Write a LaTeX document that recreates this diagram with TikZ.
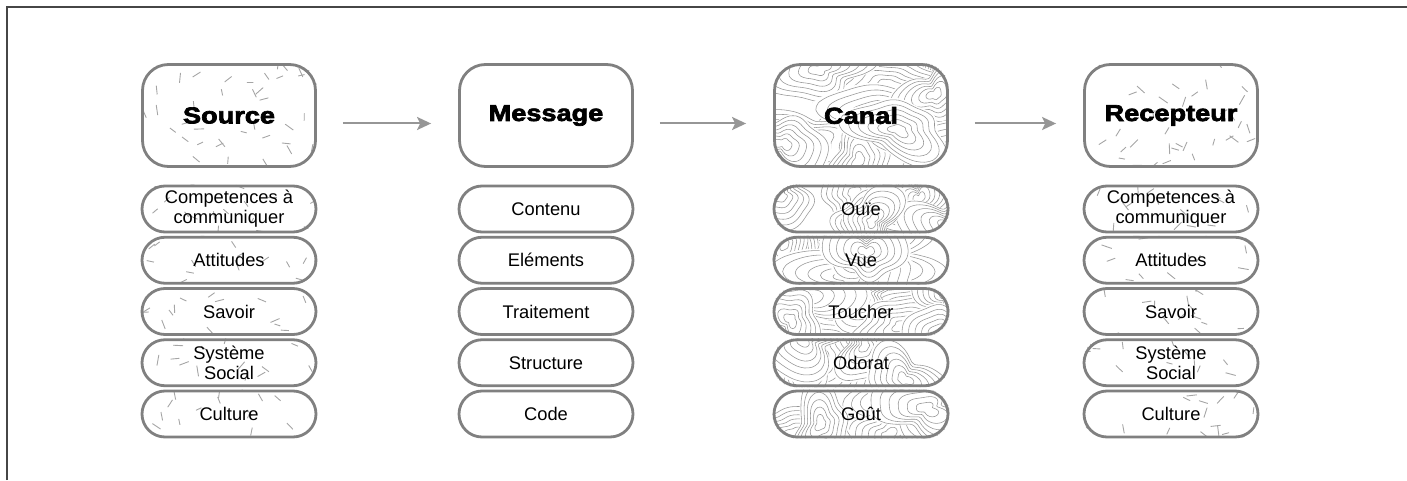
\documentclass[tikz,border=0pt]{standalone}
\usepackage{fontspec}
\setmainfont{Liberation Sans}
\newfontfamily\headfont[FakeStretch=1.18,FakeBold=3]{Liberation Sans Bold}
\usetikzlibrary{arrows.meta,backgrounds}

\definecolor{lineColor}{RGB}{128,128,128}
\definecolor{arrowColor}{RGB}{150,150,150}
\definecolor{dashColor}{RGB}{165,165,165}
\definecolor{topoColor}{RGB}{150,150,150}
\definecolor{frameColor}{RGB}{70,70,70}

\tikzset{
  headbox/.style={draw=lineColor, line width=2.8pt, rounded corners=26pt,
    minimum width=173pt, minimum height=102pt, inner sep=0pt,
    font=\headfont\fontsize{23}{26}\selectfont},
  itembox/.style={draw=lineColor, line width=2.8pt, rounded corners=23pt,
    minimum width=174pt, minimum height=46pt, inner sep=0pt, align=center,
    font=\fontsize{18.3}{20}\selectfont},
  flow/.style={draw=arrowColor, line width=2pt,
    -{Stealth[length=14pt,width=13pt,inset=3pt]},
    shorten <=26pt, shorten >=27pt},
}

% scattered short strokes inside a box: node, width, height, corner, count
\newcommand\dashfill[5]{%
  \begin{scope}
    \clip[rounded corners=#4] (#1.south west) rectangle (#1.north east);
    \begin{scope}[shift={(#1.south west)}]
      \foreach \k in {1,...,#5}{
        \pgfmathsetmacro\dx{rnd*#2}
        \pgfmathsetmacro\dy{rnd*#3}
        \pgfmathsetmacro\da{rnd*180}
        \pgfmathsetmacro\dl{6+5*rnd}
        \draw[dashColor, line width=0.9pt] (\dx,\dy) -- ++(\da:\dl);
      }
    \end{scope}
  \end{scope}}

% contour lines inside a box: node, width, height, corner, hills
\newcommand\topofill[5]{%
  \begin{scope}
    \clip[rounded corners=#4] (#1.south west) rectangle (#1.north east);
    \begin{scope}[shift={(#1.south west)}]
      \foreach \k in {1,...,#5}{
        \pgfmathsetmacro\cx{rnd*#2}
        \pgfmathsetmacro\cy{rnd*#3}
        \pgfmathsetmacro\pa{rnd*360}
        \pgfmathsetmacro\pb{rnd*360}
        \pgfmathsetmacro\pc{rnd*360}
        \pgfmathsetmacro\sx{0.8+1.0*rnd}
        \fill[white] plot[smooth cycle, samples=36, domain=0:350, variable=\t]
          ({\cx+\sx*33*(1+0.28*sin(2*\t+\pa)+0.18*sin(3*\t+\pb)+0.08*sin(5*\t+\pc))*cos(\t)},
           {\cy+33*(1+0.28*sin(2*\t+\pa)+0.18*sin(3*\t+\pb)+0.08*sin(5*\t+\pc))*sin(\t)});
        \foreach \rad in {6,11,16,21,26,31}{
          \draw[topoColor, line width=0.55pt]
            plot[smooth cycle, samples=36, domain=0:350, variable=\t]
            ({\cx+\sx*\rad*(1+0.28*sin(2*\t+\pa)+0.18*sin(3*\t+\pb)+0.08*sin(5*\t+\pc))*cos(\t)},
             {\cy+\rad*(1+0.28*sin(2*\t+\pa)+0.18*sin(3*\t+\pb)+0.08*sin(5*\t+\pc))*sin(\t)});
        }
      }
    \end{scope}
  \end{scope}}

\begin{document}
\begin{tikzpicture}[x=1pt,y=1pt]
\useasboundingbox (0,0) rectangle (1407,480);
\pgfmathsetseed{4721}

% frame
\draw[frameColor, line width=1.6pt] (7,0) -- (7,473) -- (1407,473);

% headers
\node[headbox] (src) at (229,364.5) {Source};
\node[headbox] (msg) at (546,364.5) {Message};
\node[headbox] (can) at (861,364.5) {Canal};
\node[headbox] (rec) at (1171,364.5) {Recepteur};

% items under each header
\foreach \txt [count=\i] in {{Competences à\\communiquer},Attitudes,Savoir,{Système\\Social},Culture}
  \node[itembox] (src\i) at (229,{322.25-51.25*\i}) {\txt};
\foreach \txt [count=\i] in {Contenu,Eléments,Traitement,Structure,Code}
  \node[itembox] (msg\i) at (546,{322.25-51.25*\i}) {\txt};
\foreach \txt [count=\i] in {Ouïe,Vue,Toucher,Odorat,Goût}
  \node[itembox] (can\i) at (861,{322.25-51.25*\i}) {\txt};
\foreach \txt [count=\i] in {{Competences à\\communiquer},Attitudes,Savoir,{Système\\Social},Culture}
  \node[itembox] (rec\i) at (1171,{322.25-51.25*\i}) {\txt};

% flow
\draw[flow] ([yshift=-8pt]src.east) -- ([yshift=-8pt]msg.west);
\draw[flow] ([yshift=-8pt]msg.east) -- ([yshift=-8pt]can.west);
\draw[flow] ([yshift=-8pt]can.east) -- ([yshift=-8pt]rec.west);

% textures
\begin{pgfonlayer}{background}
  \dashfill{src}{176}{105}{26pt}{40}
  \dashfill{rec}{176}{105}{26pt}{40}
  \foreach \i in {1,...,5}{
    \dashfill{src\i}{177}{49}{23pt}{16}
    \dashfill{rec\i}{177}{49}{23pt}{16}
  }
  \topofill{can}{176}{105}{26pt}{14}
  \foreach \i in {1,...,5}{
    \topofill{can\i}{177}{49}{23pt}{8}
  }
\end{pgfonlayer}
\end{tikzpicture}
\end{document}
